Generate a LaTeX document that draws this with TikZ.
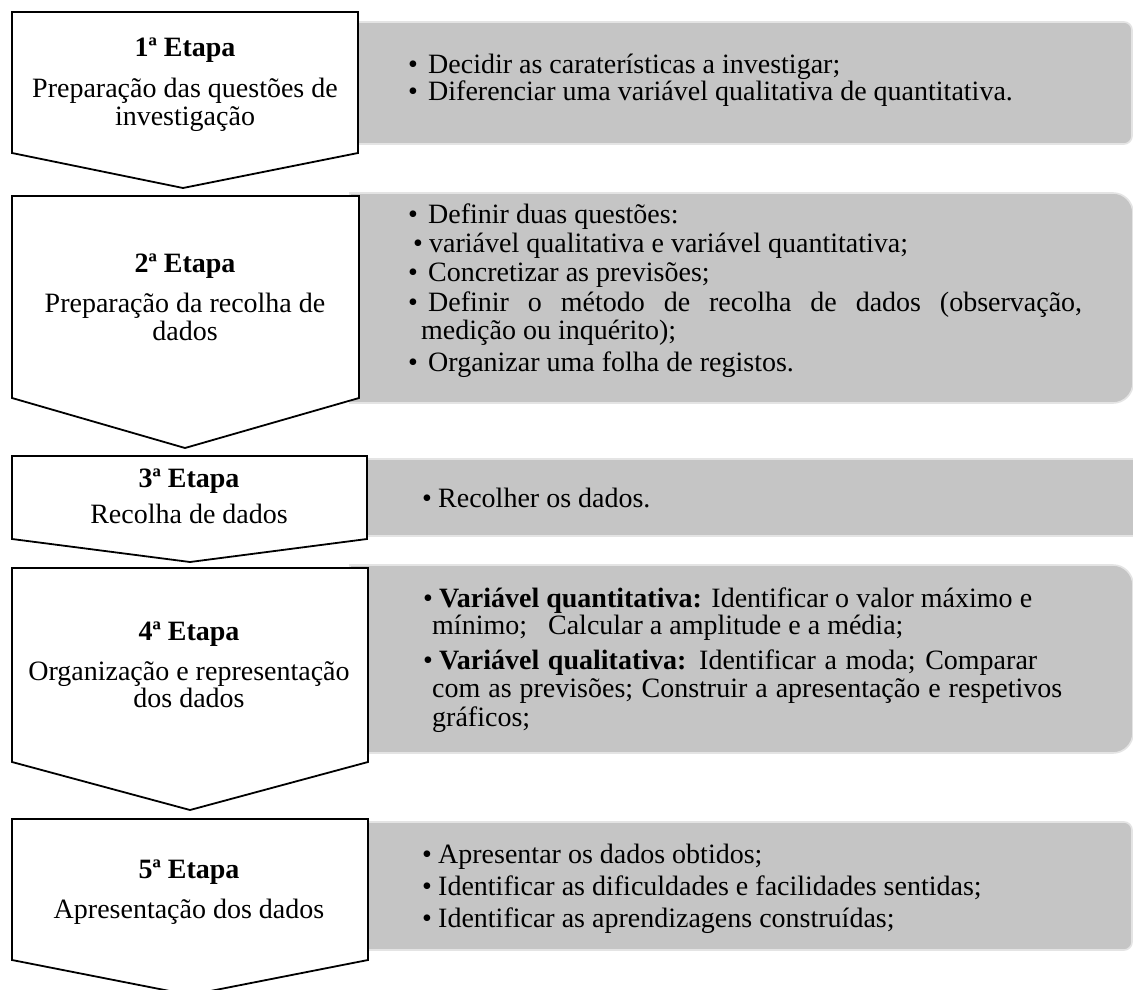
\documentclass[tikz,border=0pt]{standalone}
\usepackage{fontspec}
\setmainfont{Liberation Serif}
\definecolor{boxgrey}{HTML}{C5C5C5}
\definecolor{boxedge}{HTML}{E4E4E4}
\tikzset{
  chev/.style={draw=black, line width=1.8pt, fill=white, line join=miter},
  greybox/.style={fill=boxgrey, draw=boxedge, line width=1.6pt},
  headtxt/.style={font=\fontsize{28}{28}\selectfont\bfseries, anchor=base, inner sep=0pt},
  subtxt/.style={font=\fontsize{28}{28}\selectfont, anchor=base, inner sep=0pt},
  itemtxt/.style={font=\fontsize{28}{28}\selectfont, anchor=base west, inner sep=0pt},
}
\newcommand\bulA{\makebox[20pt][l]{•}}
\newcommand\bulB{\makebox[16pt][l]{•}}
\newcommand\greyrect[5]{\path[greybox] (#1,-#2) -- ({#3-#5},-#2) arc[start angle=90,end angle=0,radius=#5pt] -- (#3,{-#4+#5}) arc[start angle=0,end angle=-90,radius=#5pt] -- (#1,-#4) -- cycle;}
\begin{document}
\begin{tikzpicture}[x=1pt,y=1pt]
\useasboundingbox (0,0) rectangle (1133,-990);
\clip (0,0) rectangle (1133,-990);
\fill[white] (0,0) rectangle (1133,-990);
% grey boxes
\greyrect{350}{22}{1132}{144}{8}
\greyrect{350}{193}{1133}{403}{20}
\greyrect{350}{459}{1140}{536}{1}
\greyrect{350}{565}{1133}{753}{20}
\greyrect{350}{822}{1132}{950}{8}
% chevrons
\draw[chev] (12,-12) -- (358,-12) -- (358,-153) -- (183,-188) -- (12,-153) -- cycle;
\draw[chev] (12,-196) -- (359,-196) -- (359,-398) -- (185,-448) -- (12,-398) -- cycle;
\draw[chev] (12,-456) -- (367,-456) -- (367,-539) -- (190,-562) -- (12,-539) -- cycle;
\draw[chev] (12,-568) -- (368,-568) -- (368,-762) -- (190,-810) -- (12,-762) -- cycle;
\draw[chev] (12,-819) -- (368,-819) -- (368,-960) -- (190,-995) -- (12,-960) -- cycle;
% chevron texts
\node[headtxt] (h1) at (185,-57) {1ª Etapa};
\node[subtxt] (s1a) at (185,-97) {Preparação das questões de};
\node[subtxt] (s1b) at (185,-125) {investigação};
\node[headtxt] (h2) at (185,-272) {2ª Etapa};
\node[subtxt] (s2a) at (185,-312) {Preparação da recolha de};
\node[subtxt] (s2b) at (185,-340) {dados};
\node[headtxt] (h3) at (189,-487) {3ª Etapa};
\node[subtxt] (s3a) at (189,-523) {Recolha de dados};
\node[headtxt] (h4) at (189,-640) {4ª Etapa};
\node[subtxt] (s4a) at (189,-680) {Organização e representação};
\node[subtxt] (s4b) at (189,-707) {dos dados};
\node[headtxt] (h5) at (189,-878) {5ª Etapa};
\node[subtxt] (s5a) at (189,-918) {Apresentação dos dados};
% box 1
\node[itemtxt] (t11) at (408,-74) {\bulA Decidir as caraterísticas a investigar;};
\node[itemtxt] (t12) at (408,-100) {\bulA Diferenciar uma variável qualitativa de quantitativa.};
% box 2
\node[itemtxt] (t21) at (408,-223) {\bulA Definir duas questões:};
\node[itemtxt] (t22) at (413,-252) {\bulB variável qualitativa e variável quantitativa;};
\node[itemtxt] (t23) at (408,-281) {\bulA Concretizar as previsões;};
\node[itemtxt] (t24) at (408,-311) {\bulA\makebox[654pt][s]{Definir o método de recolha de dados (observação,}};
\node[itemtxt] (t25) at (421,-339) {medição ou inquérito);};
\node[itemtxt] (t26) at (408,-371) {\bulA Organizar uma folha de registos.};
% box 3
\node[itemtxt] (t31) at (422,-507) {\bulB Recolher os dados.};
% box 4
\node[itemtxt] (t41) at (423,-607) {\bulB\makebox[593pt][s]{\textbf{Variável quantitativa:} Identificar o valor máximo e}};
\node[itemtxt] (t42) at (432,-634) {mínimo;\hspace{14pt} Calcular a amplitude e a média;};
\node[itemtxt] (t43) at (423,-669) {\bulB\makebox[598pt][s]{\textbf{Variável qualitativa:} Identificar a moda; Comparar}};
\node[itemtxt] (t44) at (432,-697) {\makebox[630pt][s]{com as previsões; Construir a apresentação e respetivos}};
\node[itemtxt] (t45) at (432,-726) {gráficos;};
% box 5
\node[itemtxt] (t51) at (422,-863) {\bulB Apresentar os dados obtidos;};
\node[itemtxt] (t52) at (422,-895) {\bulB Identificar as dificuldades e facilidades sentidas;};
\node[itemtxt] (t53) at (422,-927) {\bulB Identificar as aprendizagens construídas;};
\end{tikzpicture}
\end{document}
